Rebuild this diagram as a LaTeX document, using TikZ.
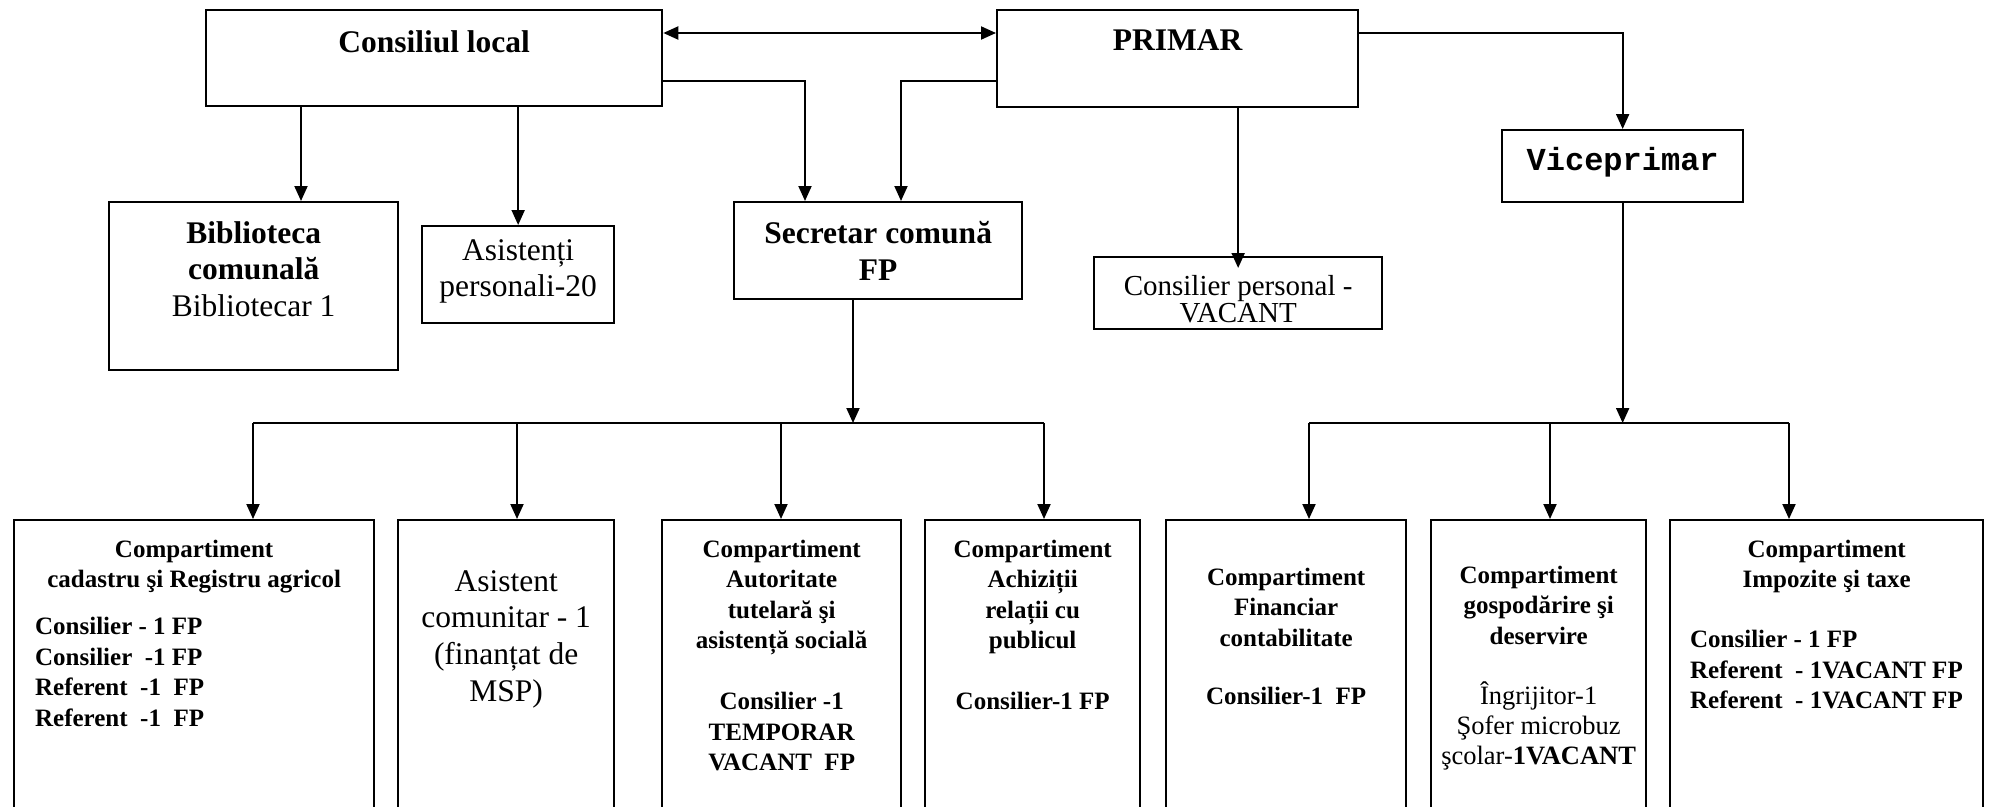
\documentclass[tikz,border=0pt]{standalone}
\usepackage{fontspec}
\setmainfont{Liberation Serif}
\setmonofont{Liberation Mono}
\usetikzlibrary{arrows.meta}

% Fixed-size box text, set from the top.
\newcommand{\boxtext}[4]{\parbox[c][#2][t]{#1}{\centering\vspace*{#3}#4}}

\begin{document}
\begin{tikzpicture}[%
        x = 1pt, y = -1pt,
        > = {Triangle[length = 15pt, width = 13pt]},
        line width = 2pt,
        unit/.style = {draw, line width = 2.3pt, inner sep = 0pt, anchor = north west},
        big/.style = {font = \fontsize{31.5}{36.7}\selectfont},
        mid/.style = {font = \fontsize{29}{27}\selectfont},
        small/.style = {font = \fontsize{25}{30.5}\selectfont},
        mono/.style = {font = \fontsize{32}{36}\selectfont\ttfamily\bfseries}
    ]

        \useasboundingbox (0, 0) rectangle (1991, 806);
        \clip (0, 0) rectangle (1991, 806);

        % Top level: council, mayor and deputy mayor.
        \node[unit, big] (cons) at (205, 9)
            {\boxtext{456pt}{96pt}{20pt}{\bfseries Consiliul local}};
        \node[unit, big] (prim) at (996, 9)
            {\boxtext{361pt}{97pt}{20pt}{\bfseries PRIMAR}};
        \node[unit, mono] (vice) at (1501, 129)
            {\boxtext{241pt}{72pt}{17pt}{Viceprimar}};

        % Second level.
        \node[unit, big] (bibl) at (108, 201)
            {\boxtext{289pt}{168pt}{19pt}{\bfseries Biblioteca\\comunală\\\mdseries Bibliotecar 1}};
        \node[unit, big] (asis) at (421, 225)
            {\boxtext{192pt}{97pt}{13pt}{Asistenți\\personali-20}};
        \node[unit, big] (secr) at (733, 201)
            {\boxtext{288pt}{97pt}{19pt}{\bfseries Secretar comună\\FP}};
        \node[unit, mid] (cpers) at (1093, 256)
            {\boxtext{288pt}{72pt}{18pt}{Consilier personal -\\VACANT}};

        % Compartments under the secretary.
        \node[unit, small] (b1) at (13, 519)
            {\boxtext{360pt}{300pt}{19.7pt}{\bfseries Compartiment\\cadastru şi Registru agricol\par
            \vspace{16.5pt}\raggedright\leftskip=21pt Consilier - 1 FP\\Consilier\ \ -1 FP\\Referent\ \ -1\ \ FP\\Referent\ \ -1\ \ FP}};
        \node[unit, big] (b2) at (397, 519)
            {\boxtext{216pt}{300pt}{50pt}{Asistent\\comunitar - 1\\(finanțat de\\MSP)}};
        \node[unit, small] (b3) at (661, 519)
            {\boxtext{239pt}{300pt}{19.7pt}{\bfseries Compartiment\\Autoritate\\tutelară şi\\asistență socială\\[30.5pt]Consilier -1\\TEMPORAR\\VACANT\ \ FP}};
        \node[unit, small] (b4) at (924, 519)
            {\boxtext{215pt}{300pt}{19.7pt}{\bfseries Compartiment\\Achiziții\\relații cu\\publicul\\[30.5pt]Consilier-1 FP}};

        % Compartments under the deputy mayor.
        \node[unit, small] (b5) at (1165, 519)
            {\boxtext{240pt}{300pt}{47.7pt}{\bfseries Compartiment\\Financiar\\contabilitate\\[27.5pt]Consilier-1\ \ FP}};
        \node[unit, small] (b6) at (1430, 519)
            {\boxtext{215pt}{300pt}{45.7pt}{\bfseries Compartiment\\gospodărire şi\\deservire\\[30.5pt]\mdseries\fontsize{26.5}{30}\selectfont Îngrijitor-1\\Şofer microbuz\\şcolar-\textbf{1VACANT}}};
        \node[unit, small] (b7) at (1669, 519)
            {\boxtext{313pt}{300pt}{19.7pt}{\bfseries Compartiment\\Impozite şi taxe\par
            \vspace{29.5pt}\raggedright\leftskip=20pt Consilier - 1 FP\\Referent\ \ - 1VACANT FP\\Referent\ \ - 1VACANT FP}};

        % Rows, columns and bus points for the connectors.
        \coordinate (r1) at (0, 33);
        \coordinate (r2) at (0, 81);
        \coordinate (m1) at (805, 81);
        \coordinate (m2) at (901, 81);
        \coordinate (c1) at (301, 0);
        \coordinate (s1) at (853, 423);
        \coordinate (d1) at (253, 423);
        \coordinate (d2) at (517, 423);
        \coordinate (d3) at (781, 423);
        \coordinate (d4) at (1044, 423);
        \coordinate (d5) at (1309, 423);
        \coordinate (d6) at (1550, 423);
        \coordinate (d7) at (1789, 423);

        % Links from the council and the mayor.
        \draw[<->] (cons.east |- r1) to (prim.west |- r1);
        \draw[->] (cons.east |- r2) -- (m1) -- (secr.north -| m1);
        \draw[->] (prim.west |- r2) -- (m2) -- (secr.north -| m2);
        \draw[->] (cons.south -| c1) to (bibl.north -| c1);
        \draw[->] (cons.south -| asis.north) to (asis.north);
        \draw[->] (prim.east |- r1) -| (vice.north);
        \draw[->, shorten >= -12pt] (prim.south -| cpers.north) to (cpers.north);

        % The two buses down to the compartments.
        \draw[->] (secr.south -| s1) to (s1);
        \draw (d1) -- (d4);
        \foreach \k in {1, ..., 4}{
            \draw[->] (d\k) to (b\k.north -| d\k);
        }
        \draw[->] (vice.south) to (vice.south |- d5);
        \draw (d5) -- (d7);
        \foreach \k in {5, 6, 7}{
            \draw[->] (d\k) to (b\k.north -| d\k);
        }
    \end{tikzpicture}
\end{document}
